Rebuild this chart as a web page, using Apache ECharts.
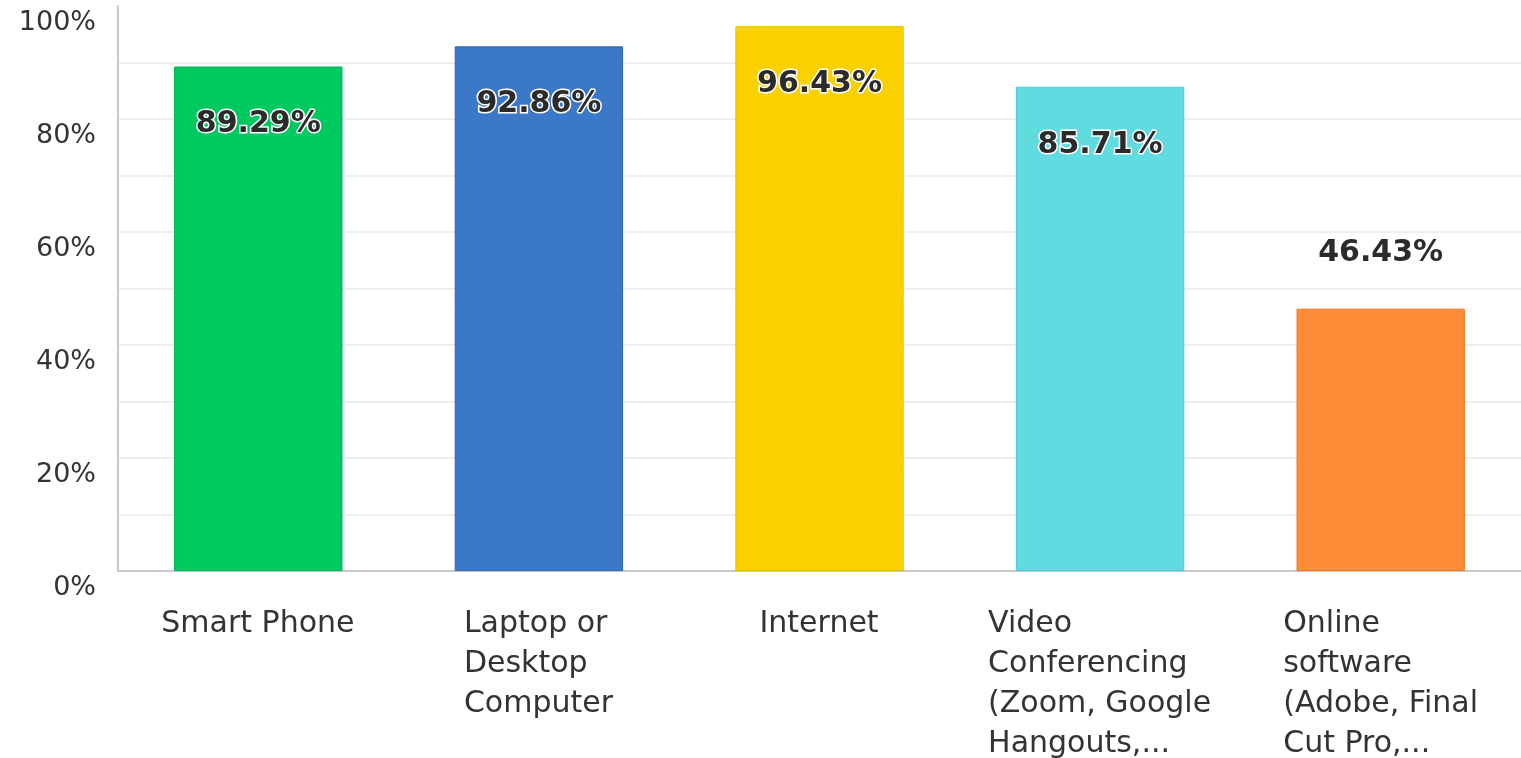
<!DOCTYPE html>
<html>
<head>
<meta charset="utf-8">
<script src="https://cdn.jsdelivr.net/npm/echarts@6/dist/echarts.min.js"></script>
<style>
  html, body { margin: 0; padding: 0; background: #fff; }
  #main { width: 1521px; height: 758px; }
</style>
</head>
<body>
<div id="main"></div>
<script>
const categories = [
    'Smart Phone',
    'Laptop or\nDesktop\nComputer',
    'Internet',
    'Video\nConferencing\n(Zoom, Google\nHangouts,...',
    'Online\nsoftware\n(Adobe, Final\nCut Pro,...'
]
const values = [89.29, 92.86, 96.43, 85.71, 46.43]
const colors = ['#00c95f', '#3b78c8', '#f9d000', '#60dbe0', '#ff8c38']
const borders = ['#00b555', '#2f66b0', '#e8c000', '#4fcbd2', '#f07a28']
const yTicks = [0, 20, 40, 60, 80, 100]

const FONT = 'DejaVu Sans'
const chart = echarts.init(document.getElementById('main'))

// widest line of each label, so lines can be left-aligned inside a centred block
const ctx = document.createElement('canvas').getContext('2d')
ctx.font = '30px "' + FONT + '"'
const rich = {}
categories.forEach((c, i) => {
    const w = Math.max(...c.split('\n').map(s => ctx.measureText(s).width))
    rich['c' + i] = { width: Math.ceil(w), align: 'left', fontSize: 30, lineHeight: 40, color: '#333', fontFamily: FONT }
})

const data = values.map((v, i) => {
    const item = {
        value: v,
        itemStyle: { color: colors[i], borderColor: borders[i], borderWidth: 1 }
    }
    if (v < 60) {
        item.label = { position: 'top', distance: 40, textBorderWidth: 0 }
    }
    return item
})

chart.setOption({
    animation: false,
    grid: { left: 118, right: 0, top: 6, bottom: 187, outerBoundsMode: 'none' },
    xAxis: {
        type: 'category',
        data: categories,
        axisLine: { lineStyle: { color: '#c8c8c8', width: 2 } },
        axisTick: { show: false },
        axisLabel: {
            interval: 0,
            margin: 33,
            align: 'center',
            verticalAlign: 'top',
            formatter: (val, idx) => val.split('\n').map(s => '{c' + idx + '|' + s + '}').join('\n'),
            rich: rich
        }
    },
    yAxis: {
        type: 'value',
        min: 0,
        max: 100,
        interval: 10,
        axisLine: { show: true, lineStyle: { color: '#c8c8c8', width: 2 } },
        axisTick: { show: false },
        splitLine: { showMaxLine: false, lineStyle: { color: '#eeeeee', width: 2 } },
        axisLabel: {
            margin: 22,
            fontSize: 27,
            fontFamily: FONT,
            color: '#333',
            verticalAlign: 'top',
            lineHeight: 34,
            formatter: v => yTicks.includes(v) ? v + '%' : ''
        }
    },
    series: [{
        type: 'bar',
        data: data,
        barWidth: '60%',
        label: {
            show: true,
            position: 'insideTop',
            distance: 43,
            fontSize: 30,
            fontWeight: 'bold',
            fontFamily: FONT,
            color: '#2b2b2b',
            textBorderColor: '#fff',
            textBorderWidth: 3,
            formatter: p => p.value.toFixed(2) + '%'
        }
    }]
})
</script>
</body>
</html>
